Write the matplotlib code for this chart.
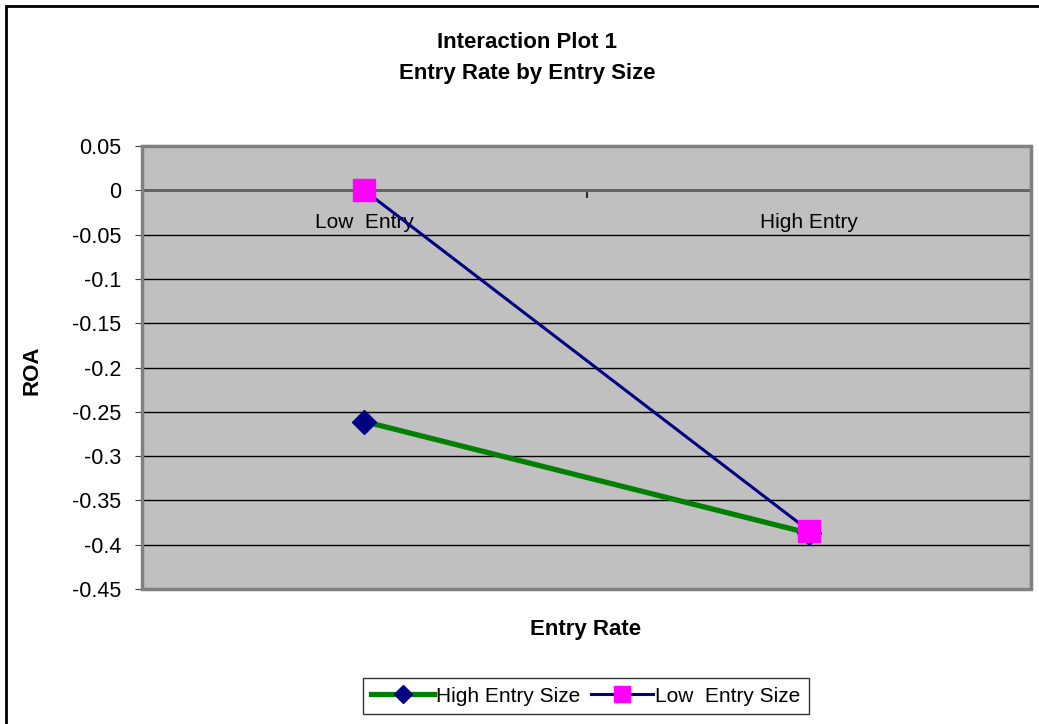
import matplotlib
matplotlib.use("Agg")
import matplotlib.pyplot as plt
from matplotlib.patches import Rectangle

plt.rcParams['font.family'] = ['Liberation Sans', 'DejaVu Sans']

categories = ["Low  Entry", "High Entry"]
high_size = [-0.261, -0.387]
low_size = [0.0, -0.384]
yticks = [0.05, 0, -0.05, -0.1, -0.15, -0.2, -0.25, -0.3, -0.35, -0.4, -0.45]

W, H = 1039, 724
fig = plt.figure(figsize=(W / 100, H / 100), dpi=100)

# chart area frame (right and bottom edges fall outside the canvas)
fig.add_artist(Rectangle((6 / W, -0.05), 1.1, 1 - 6 / H + 0.05,
                         transform=fig.transFigure, fill=False,
                         edgecolor='black', lw=2))

ax = fig.add_axes([142 / W, 1 - 589 / H, (1031 - 142) / W, (589 - 146) / H])
ax.set_facecolor('#c0c0c0')

x = list(range(len(categories)))
ax.plot(x, high_size, color='#008000', lw=3.8, marker='D', ms=12.5,
        mfc='#000080', mec='#000080', label='High Entry Size', zorder=3)
ax.plot(x, low_size, color='#000080', lw=2.2, marker='s', ms=15.5,
        mfc='#ff00ff', mec='#ff00ff', label='Low  Entry Size', zorder=4)

ax.set_xlim(-0.5, len(categories) - 0.5)
ax.set_ylim(-0.45, 0.05)
ax.set_yticks(yticks)
ax.set_yticklabels(['{:g}'.format(v) for v in yticks], fontsize=15.5)
ax.yaxis.grid(True, color='black', lw=1)
ax.set_axisbelow(True)
ax.tick_params(axis='y', direction='out', length=5, color='#404040', pad=10)

# x axis crosses at zero, tick between the categories
ax.spines['bottom'].set_position(('data', 0))
ax.spines['bottom'].set_color('#606060')
ax.spines['bottom'].set_linewidth(2)
ax.set_xticks([0.5])
ax.set_xticklabels([])
ax.tick_params(axis='x', direction='out', length=6, width=1.5, color='#303030')
for xi, name in zip(x, categories):
    ax.annotate(name, (xi, 0), xytext=(0, -23), textcoords='offset points',
                ha='center', va='center', fontsize=15)

ax.spines['left'].set_color('black')
ax.spines['left'].set_linewidth(1.2)
for s in ('top', 'right'):
    ax.spines[s].set_color('#808080')
    ax.spines[s].set_linewidth(1.5)
ax.add_patch(Rectangle((0, 0), 1, 1, transform=ax.transAxes, fill=False,
                       edgecolor='#808080', lw=2.5, clip_on=False, zorder=5))

fig.text(527 / W, 1 - 42 / H, "Interaction Plot 1", ha='center', va='center',
         fontsize=16, fontweight='bold')
fig.text(527 / W, 1 - 73 / H, "Entry Rate by Entry Size", ha='center',
         va='center', fontsize=16, fontweight='bold')
fig.text(32 / W, 1 - 370 / H, "ROA", rotation=90, ha='center', va='center',
         fontsize=16, fontweight='bold')
fig.text(586 / W, 1 - 629 / H, "Entry Rate", ha='center', va='center',
         fontsize=16, fontweight='bold')

leg = fig.legend(loc='center', bbox_to_anchor=(586 / W, 1 - 696 / H), ncol=2,
                 fontsize=15, frameon=True, fancybox=False, handlelength=3.0,
                 handletextpad=0.1, columnspacing=0.5, borderpad=0.4,
                 borderaxespad=0, markerscale=0.7)
leg.get_frame().set_edgecolor('black')
leg.get_frame().set_linewidth(1)

fig.savefig("out.png", dpi=100)
